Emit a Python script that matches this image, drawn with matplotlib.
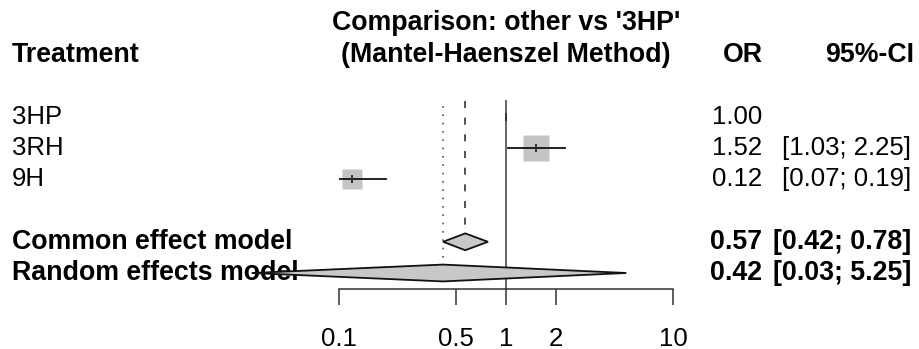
import numpy as np
import matplotlib.pyplot as plt
from matplotlib.transforms import blended_transform_factory
from matplotlib.patches import Polygon

plt.rcParams['font.family'] = ['Liberation Sans', 'DejaVu Sans']

# study rows
treatments = ['3HP', '3RH', '9H']
odds_ratios = [1.00, 1.52, 0.12]
ci_low = [np.nan, 1.03, 0.07]
ci_high = [np.nan, 2.25, 0.19]
weights = [0.0, 1.0, 0.6]   # relative square area

# pooled estimates
model_names = ['Common effect model', 'Random effects model']
model_or = [0.57, 0.42]
model_low = [0.42, 0.03]
model_high = [0.78, 5.25]

tick_vals = [0.1, 0.5, 1, 2, 10]
tick_labels = ['0.1', '0.5', '1', '2', '10']

FS = 18.5
FSB = 19.3
line_col = '#333333'

fig = plt.figure(figsize=(9.19, 3.49), dpi=100)
ax = fig.add_axes([339 / 919, 0, 334 / 919, 1])
ax.set_xscale('log')
ax.set_xlim(0.1, 10)
ax.set_ylim(8.436, -2.75)
ax.patch.set_visible(False)
for s in ['top', 'left', 'right']:
    ax.spines[s].set_visible(False)
ax.spines['bottom'].set_position(('data', 6.5))
ax.spines['bottom'].set_color(line_col)
ax.spines['bottom'].set_linewidth(1.1)
ax.set_yticks([])
ax.set_xticks(tick_vals, labels=tick_labels)
ax.minorticks_off()
ax.tick_params(axis='x', direction='out', length=11.5, width=1.1, color=line_col,
               pad=16, labelsize=18.5)

trans = blended_transform_factory(fig.transFigure, ax.transData)

def ftext(px, row, s, bold=False, **kw):
    ax.text(px / 919, row, s, transform=trans, va='center',
            fontsize=FSB if bold else FS, fontweight='bold' if bold else 'normal',
            clip_on=False, zorder=1, **kw)

study_rows = [1, 2, 3]
model_rows = [5, 6]

# reference lines
ax.plot([1, 1], [0.5, 6.5], color='#666666', lw=1.4, zorder=2)
ax.plot([model_or[0]] * 2, [0.5, model_rows[0] - 0.27], color=line_col, lw=1.2,
        ls=(0, (4.2, 5.8)), zorder=2)
ax.plot([model_or[1]] * 2, [0.65, model_rows[1] - 0.26], color='#555555', lw=1.2,
        ls=(0, (1, 4)), zorder=2)

# studies
for r, est, lo, hi, w in zip(study_rows, odds_ratios, ci_low, ci_high, weights):
    if w > 0:
        ax.plot([est], [r], marker='s', ms=19.4 * np.sqrt(w), color='#c4c4c4',
                mec='none', zorder=3, clip_on=False)
    if not np.isnan(lo):
        ax.plot([lo, hi], [r, r], color='#111111', lw=1.3, zorder=4)
    ax.plot([est], [r], marker='|', ms=6, mew=1.4, color='#333333', zorder=5)

# diamonds
for r, est, lo, hi in zip(model_rows, model_or, model_low, model_high):
    h = 0.27
    pts = [(lo, r), (est, r - h), (hi, r), (est, r + h)]
    ax.add_patch(Polygon(pts, closed=True, facecolor='#c8c8c8', edgecolor='#111111',
                         lw=1.3, zorder=6, clip_on=False))

# headers
ftext(12, -1, 'Treatment', bold=True, ha='left')
ftext(506, -2, "Comparison: other vs '3HP'", bold=True, ha='center')
ftext(506, -1, '(Mantel-Haenszel Method)', bold=True, ha='center')
ftext(763, -1, 'OR', bold=True, ha='right')
ftext(914, -1, '95%-CI', bold=True, ha='right')

# study text
for r, name, est, lo, hi in zip(study_rows, treatments, odds_ratios, ci_low, ci_high):
    ftext(12, r, name, ha='left')
    ftext(762, r, f'{est:.2f}', ha='right')
    if not np.isnan(lo):
        ftext(911, r, f'[{lo:.2f}; {hi:.2f}]', ha='right')

for r, name, est, lo, hi in zip(model_rows, model_names, model_or, model_low, model_high):
    ftext(12, r, name, bold=True, ha='left')
    ftext(762, r, f'{est:.2f}', bold=True, ha='right')
    ftext(911, r, f'[{lo:.2f}; {hi:.2f}]', bold=True, ha='right')

fig.savefig('out.png', dpi=100)
